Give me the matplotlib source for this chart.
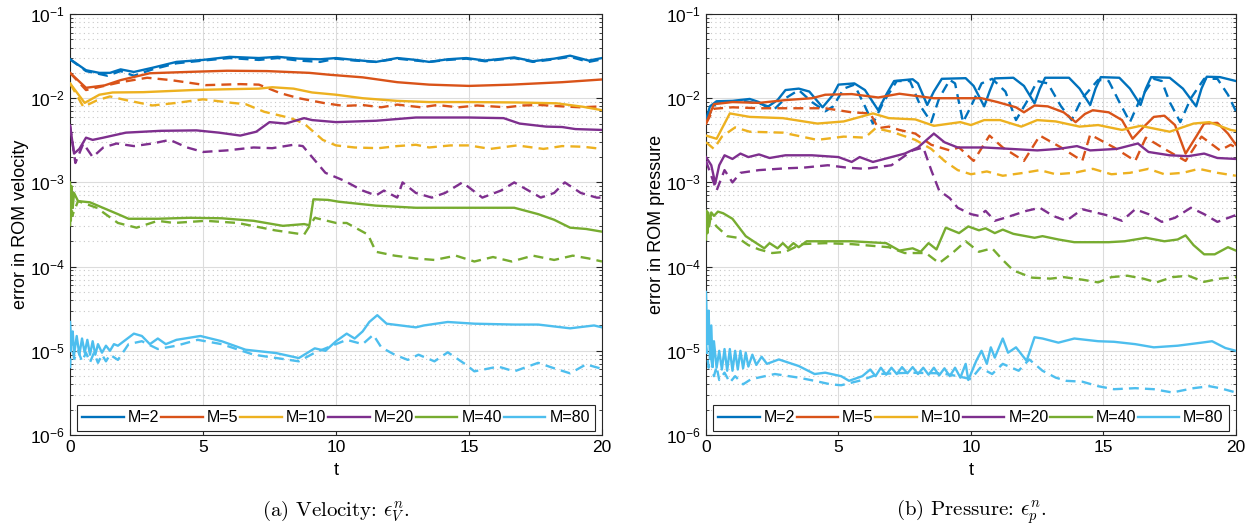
import numpy as np
import matplotlib
matplotlib.use("Agg")
import matplotlib.pyplot as plt
from matplotlib.ticker import LogLocator, NullFormatter, MultipleLocator

plt.rcParams['font.family'] = ['Liberation Sans', 'DejaVu Sans']
plt.rcParams['mathtext.fontset'] = 'cm'

labels = ['M=2', 'M=5', 'M=10', 'M=20', 'M=40', 'M=80']
colors = ['#0072BD', '#D95319', '#EDB120', '#7E2F8E', '#77AC30', '#4DBEEE']

# ---- velocity error, (t, value); solid = s, dashed = d
vel_m2_s = [(0, 2.9e-2), (0.3, 2.5e-2), (0.6, 2.15e-2), (1.1, 2.0e-2), (1.5, 2.0e-2), (1.9, 2.2e-2), (2.4, 2.05e-2),
            (3.1, 2.3e-2), (4.0, 2.7e-2), (5.0, 2.85e-2), (6.0, 3.1e-2), (7.1, 3.0e-2), (7.8, 3.1e-2), (8.6, 2.95e-2),
            (9.4, 2.9e-2), (10.0, 3.0e-2), (10.7, 2.85e-2), (11.5, 2.7e-2), (12.3, 3.0e-2), (13.0, 2.85e-2),
            (13.5, 2.7e-2), (14.2, 2.9e-2), (14.9, 3.0e-2), (15.6, 2.8e-2), (16.7, 3.05e-2), (17.4, 2.75e-2),
            (18.2, 2.95e-2), (18.8, 3.2e-2), (19.5, 2.8e-2), (20, 3.0e-2)]
vel_m2_d = [(0, 2.9e-2), (0.6, 2.1e-2), (1.4, 1.85e-2), (1.9, 2.1e-2), (2.4, 1.85e-2), (3.1, 2.2e-2), (4.0, 2.6e-2),
            (5.0, 2.8e-2), (6.0, 3.0e-2), (7.1, 2.85e-2), (7.8, 3.0e-2), (8.6, 2.8e-2), (9.4, 2.7e-2), (10.0, 2.95e-2),
            (10.7, 2.8e-2), (11.5, 2.7e-2), (12.3, 2.95e-2), (13.0, 2.8e-2), (13.5, 2.7e-2), (14.2, 2.85e-2),
            (14.9, 2.95e-2), (15.6, 2.75e-2), (16.7, 3.0e-2), (17.4, 2.7e-2), (18.2, 2.9e-2), (18.8, 3.1e-2),
            (19.5, 2.7e-2), (20, 2.9e-2)]
vel_m5_s = [(0, 2.0e-2), (0.6, 1.33e-2), (1.3, 1.42e-2), (1.9, 1.64e-2), (3.0, 1.98e-2), (4.6, 2.06e-2),
            (5.9, 2.12e-2), (7.4, 2.1e-2), (9.0, 2.0e-2), (9.75, 1.9e-2), (11.0, 1.77e-2), (12.3, 1.55e-2),
            (13.5, 1.45e-2), (15, 1.4e-2), (16.6, 1.45e-2), (18.5, 1.55e-2), (20, 1.67e-2)]
vel_m5_d = [(0, 2.0e-2), (0.6, 1.25e-2), (1.9, 1.55e-2), (2.9, 1.75e-2), (3.8, 1.64e-2), (5.1, 1.43e-2),
            (6.4, 1.47e-2), (7.1, 1.45e-2), (7.9, 1.15e-2), (8.6, 1.0e-2), (9.6, 8.7e-3), (10.3, 8.1e-3),
            (11.0, 8.3e-3), (11.7, 7.8e-3), (12.3, 8.4e-3), (13.2, 7.8e-3), (13.8, 8.3e-3), (14.6, 7.8e-3),
            (15.3, 8.2e-3), (16.4, 7.8e-3), (17.0, 8.2e-3), (17.7, 8.3e-3), (18.5, 8.0e-3), (19.2, 7.8e-3),
            (20, 8.0e-3)]
vel_m10_s = [(0, 1.5e-2), (0.55, 8.8e-3), (1.1, 1.1e-2), (1.6, 1.17e-2), (2.75, 1.18e-2), (4.6, 1.25e-2),
             (6.0, 1.28e-2), (7.1, 1.3e-2), (7.6, 1.35e-2), (8.4, 1.3e-2), (9.1, 1.17e-2), (10.0, 1.1e-2),
             (11.0, 1.0e-2), (12.3, 9.3e-3), (13.5, 9.0e-3), (15, 9.0e-3), (16.8, 8.9e-3), (18.3, 8.7e-3),
             (19.3, 7.9e-3), (20, 7.2e-3)]
vel_m10_d = [(0, 1.5e-2), (0.5, 7.9e-3), (1.0, 9.4e-3), (1.5, 1.05e-2), (2.1, 9.5e-3), (3.1, 8.2e-3),
             (4.0, 8.8e-3), (5.0, 9.7e-3), (6.1, 8.8e-3), (6.6, 8.5e-3), (7.3, 6.9e-3), (8.3, 5.8e-3),
             (8.8, 5.0e-3), (9.5, 3.2e-3), (10.0, 2.75e-3), (10.7, 2.6e-3), (11.6, 2.55e-3), (12.3, 2.7e-3),
             (13.0, 2.8e-3), (13.5, 2.6e-3), (14.3, 2.75e-3), (15.0, 2.75e-3), (15.8, 2.5e-3), (16.8, 2.75e-3),
             (17.8, 2.5e-3), (18.5, 2.7e-3), (19.3, 2.65e-3), (20, 2.5e-3)]
vel_m20_s = [(0, 4.75e-3), (0.15, 2.2e-3), (0.35, 2.5e-3), (0.6, 3.4e-3), (0.85, 3.2e-3), (1.25, 3.4e-3),
             (1.6, 3.6e-3), (2.1, 3.9e-3), (3.4, 4.1e-3), (4.75, 4.15e-3), (5.6, 3.9e-3), (6.4, 3.6e-3),
             (7.0, 4.0e-3), (7.5, 5.2e-3), (8.1, 5.0e-3), (8.8, 5.8e-3), (9.1, 5.5e-3), (10, 5.2e-3),
             (11.5, 5.4e-3), (13.0, 5.9e-3), (15, 5.9e-3), (16.3, 5.8e-3), (16.9, 5.0e-3), (17.9, 4.6e-3),
             (18.5, 4.55e-3), (19.0, 4.3e-3), (20, 4.2e-3)]
vel_m20_d = [(0, 4.75e-3), (0.2, 1.7e-3), (0.5, 2.9e-3), (0.85, 2.0e-3), (1.25, 2.6e-3), (1.75, 2.9e-3),
             (2.4, 2.7e-3), (3.1, 2.9e-3), (3.75, 3.2e-3), (4.4, 2.6e-3), (5.0, 2.3e-3), (5.9, 2.4e-3),
             (6.9, 2.6e-3), (7.6, 2.55e-3), (8.4, 2.8e-3), (8.75, 2.7e-3), (9.1, 2.0e-3), (9.6, 1.3e-3),
             (10.3, 1.05e-3), (11.0, 8e-4), (11.5, 7e-4), (11.8, 8e-4), (12.3, 6.6e-4), (12.5, 1.0e-3),
             (13.0, 7.5e-4), (13.6, 6.6e-4), (14.1, 7.5e-4), (14.75, 1.0e-3), (15.5, 6.6e-4), (16.2, 8e-4),
             (16.7, 1.0e-3), (17.7, 6.6e-4), (18.2, 7.5e-4), (18.6, 1.0e-3), (19.2, 7.5e-4), (19.8, 6.6e-4),
             (20, 6.6e-4)]
vel_m40_s = [(0, 1.0e-3), (0.03, 3.5e-4), (0.06, 9e-4), (0.1, 5e-4), (0.15, 7.5e-4), (0.3, 6e-4), (0.75, 5.8e-4),
             (1.8, 4.2e-4), (2.2, 3.7e-4), (3.3, 3.7e-4), (4.5, 3.8e-4), (5.7, 3.75e-4), (6.9, 3.5e-4),
             (8.0, 3.05e-4), (8.8, 3.2e-4), (9.0, 3.1e-4), (9.15, 6.3e-4), (9.7, 6.2e-4), (10.1, 5.9e-4),
             (11.5, 5.3e-4), (13, 5.0e-4), (16.7, 5.0e-4), (17.6, 4.2e-4), (18.2, 3.6e-4), (18.8, 2.9e-4),
             (19.4, 2.8e-4), (20, 2.6e-4)]
vel_m40_d = [(0, 3e-4), (0.03, 9e-4), (0.08, 4e-4), (0.3, 6e-4), (1.0, 5e-4), (1.8, 3.3e-4), (2.5, 2.9e-4),
             (3.3, 3.5e-4), (3.9, 3.3e-4), (5.1, 3.5e-4), (6.3, 3.3e-4), (7.7, 2.7e-4), (8.8, 2.4e-4),
             (9.2, 3.8e-4), (10.0, 3.3e-4), (10.4, 3.3e-4), (11.2, 2.4e-4), (11.5, 1.5e-4), (12.2, 1.35e-4),
             (13, 1.25e-4), (13.7, 1.2e-4), (14.5, 1.35e-4), (15.2, 1.15e-4), (15.9, 1.3e-4), (16.6, 1.15e-4),
             (17.4, 1.35e-4), (18.2, 1.2e-4), (18.9, 1.35e-4), (19.5, 1.25e-4), (20, 1.15e-4)]
vel_m80_s = [(0, 2.2e-5), (0.05, 1.2e-5), (0.1, 1.7e-5), (0.15, 9e-6), (0.25, 1.5e-5), (0.35, 9e-6),
             (0.45, 1.4e-5), (0.55, 9.5e-6), (0.65, 1.35e-5), (0.75, 9e-6), (0.85, 1.3e-5), (0.95, 9e-6),
             (1.05, 1.2e-5), (1.2, 9.5e-6), (1.35, 1.15e-5), (1.5, 1.0e-5), (1.65, 1.2e-5), (1.8, 1.15e-5),
             (2.4, 1.6e-5), (2.7, 1.5e-5), (3.0, 1.2e-5), (3.3, 1.4e-5), (3.6, 1.2e-5), (4.0, 1.35e-5),
             (4.9, 1.5e-5), (5.7, 1.3e-5), (6.6, 1.03e-5), (7.75, 9.4e-6), (8.6, 8.2e-6), (9.2, 1.07e-5),
             (9.6, 1.0e-5), (10.0, 1.3e-5), (10.4, 1.6e-5), (10.7, 1.4e-5), (11.0, 1.7e-5), (11.25, 2.2e-5),
             (11.55, 2.65e-5), (11.9, 2.1e-5), (13, 1.9e-5), (13.3, 2.0e-5), (14.2, 2.2e-5), (15.2, 2.1e-5),
             (16.7, 2.05e-5), (17.6, 2.05e-5), (18.8, 1.85e-5), (19.7, 2.0e-5), (20, 1.9e-5)]
vel_m80_d = [(0, 6.2e-6), (0.05, 1.5e-5), (0.15, 8e-6), (0.3, 1.0e-5), (0.45, 7.5e-6), (0.6, 9.5e-6),
             (0.75, 7.3e-6), (0.9, 9.5e-6), (1.05, 7.2e-6), (1.2, 9e-6), (1.35, 7.5e-6), (1.5, 9e-6),
             (1.8, 7.8e-6), (2.2, 1.2e-5), (2.7, 1.3e-5), (3.3, 1.05e-5), (4.0, 1.15e-5), (4.8, 1.35e-5),
             (5.7, 1.2e-5), (6.9, 9e-6), (8.6, 7.5e-6), (9.2, 9.5e-6), (10.4, 1.35e-5), (11.0, 1.2e-5),
             (11.4, 1.55e-5), (11.7, 1.1e-5), (12.2, 9e-6), (12.7, 7.8e-6), (13.1, 9e-6), (13.7, 7.5e-6),
             (14.2, 9.6e-6), (14.9, 6.8e-6), (15.2, 5.7e-6), (16.1, 6.5e-6), (16.7, 5.7e-6), (17.6, 7.2e-6),
             (18.2, 6.2e-6), (18.8, 5.4e-6), (19.4, 6.9e-6), (20, 6.1e-6)]

# ---- pressure error
pre_m2_s = [(0, 5.5e-3), (0.15, 8e-3), (0.4, 9.2e-3), (1.0, 9.3e-3), (1.65, 9.8e-3), (2.0, 9.0e-3), (2.3, 7.8e-3),
            (2.7, 9.5e-3), (3.0, 1.25e-2), (3.5, 1.3e-2), (3.9, 1.2e-2), (4.4, 7.8e-3), (4.8, 1.1e-2),
            (5.0, 1.45e-2), (5.6, 1.5e-2), (6.0, 1.25e-2), (6.5, 7.2e-3), (6.8, 1.1e-2), (7.1, 1.6e-2),
            (7.8, 1.68e-2), (8.0, 1.5e-2), (8.35, 8.3e-3), (8.6, 1.2e-2), (8.9, 1.7e-2), (9.8, 1.73e-2),
            (10.1, 1.4e-2), (10.5, 8e-3), (10.7, 1.2e-2), (10.9, 1.72e-2), (11.6, 1.75e-2), (12.0, 1.4e-2),
            (12.4, 8.7e-3), (12.6, 1.3e-2), (12.8, 1.75e-2), (13.7, 1.75e-2), (14.1, 1.3e-2), (14.5, 8.3e-3),
            (14.7, 1.3e-2), (14.9, 1.78e-2), (15.6, 1.75e-2), (16.0, 1.3e-2), (16.4, 8.3e-3), (16.6, 1.3e-2),
            (16.8, 1.78e-2), (17.5, 1.75e-2), (18.0, 1.3e-2), (18.5, 8e-3), (18.7, 1.3e-2), (18.9, 1.8e-2),
            (19.4, 1.78e-2), (20, 1.6e-2)]
pre_m2_d = [(0, 5.5e-3), (0.4, 9e-3), (1.5, 9.2e-3), (2.1, 8.5e-3), (2.6, 7.5e-3), (3.0, 1.0e-2), (3.5, 1.25e-2),
            (4.0, 9e-3), (4.5, 7e-3), (4.8, 8e-3), (5.2, 1.3e-2), (5.6, 1.45e-2), (6.0, 8e-3), (6.3, 5e-3),
            (6.7, 9e-3), (7.2, 1.6e-2), (7.7, 1.6e-2), (8.1, 8e-3), (8.5, 5.2e-3), (8.8, 1.0e-2), (9.2, 1.65e-2),
            (9.4, 1.5e-2), (9.7, 5.2e-3), (10.0, 8e-3), (10.4, 1.5e-2), (10.8, 1.7e-2), (11.3, 1.2e-2),
            (11.7, 5.5e-3), (12.1, 9e-3), (12.5, 1.6e-2), (12.9, 1.5e-2), (13.4, 8e-3), (13.8, 5.5e-3),
            (14.2, 1.0e-2), (14.8, 1.65e-2), (15.2, 1.6e-2), (15.6, 9e-3), (16.0, 5.2e-3), (16.4, 1.0e-2),
            (16.9, 1.7e-2), (17.2, 1.6e-2), (17.5, 9e-3), (17.9, 5.2e-3), (18.3, 1.0e-2), (18.8, 1.7e-2),
            (19.3, 1.7e-2), (19.7, 1.1e-2), (20, 7e-3)]
pre_m5_s = [(0, 5e-3), (0.3, 8.5e-3), (1.0, 9e-3), (2.0, 8.8e-3), (3.0, 9.5e-3), (4.0, 1.0e-2), (4.5, 1.1e-2),
            (5.5, 1.12e-2), (6.5, 1.02e-2), (7.3, 1.13e-2), (8.6, 1.0e-2), (9.8, 1.0e-2), (10.4, 1.0e-2),
            (11.0, 9e-3), (11.7, 7.8e-3), (12.0, 6.8e-3), (12.4, 8.2e-3), (12.9, 8e-3), (13.5, 6.8e-3),
            (13.95, 5.2e-3), (14.3, 6.5e-3), (14.6, 7.2e-3), (15.2, 6.8e-3), (15.7, 5.5e-3), (16.1, 3.3e-3),
            (16.5, 4.5e-3), (16.9, 6e-3), (17.3, 6.2e-3), (17.7, 4.8e-3), (18.1, 2.2e-3), (18.5, 3.5e-3),
            (18.8, 5e-3), (19.3, 5.1e-3), (19.7, 3.8e-3), (20, 2.8e-3)]
pre_m5_d = [(0, 5e-3), (0.3, 7.5e-3), (1.0, 7.8e-3), (2.0, 7.6e-3), (3.0, 7.6e-3), (4.5, 7.6e-3), (5.5, 6.8e-3),
            (6.2, 6.6e-3), (6.5, 4.4e-3), (6.9, 4.6e-3), (7.3, 4.2e-3), (7.9, 3.8e-3), (8.5, 2.8e-3), (9.2, 2.4e-3),
            (9.55, 2.6e-3), (10.1, 1.8e-3), (10.7, 3.6e-3), (11.2, 2.6e-3), (12.0, 1.8e-3), (12.6, 3.6e-3),
            (13.4, 2.6e-3), (14.2, 1.8e-3), (14.5, 3.7e-3), (15.4, 2.6e-3), (16.2, 1.8e-3), (16.6, 3.4e-3),
            (17.4, 2.4e-3), (18.1, 1.8e-3), (18.7, 3.5e-3), (19.4, 2.4e-3), (19.8, 2.8e-3), (20, 2.6e-3)]
pre_m10_s = [(0, 3.6e-3), (0.4, 3.3e-3), (0.9, 6.6e-3), (1.65, 6e-3), (2.9, 5.8e-3), (4.2, 5e-3), (5.2, 5.3e-3),
             (6.3, 6.6e-3), (6.9, 5.8e-3), (7.9, 5.6e-3), (8.6, 4.7e-3), (9.6, 5.2e-3), (10.0, 4.8e-3),
             (10.5, 5.5e-3), (11.1, 5.5e-3), (11.9, 4.6e-3), (12.5, 5.5e-3), (13.2, 5.3e-3), (14.1, 4.6e-3),
             (14.8, 4.8e-3), (15.7, 4.2e-3), (16.4, 4.7e-3), (17.5, 4.0e-3), (18.4, 5.0e-3), (19.0, 5.2e-3),
             (19.8, 4.2e-3), (20, 4.1e-3)]
pre_m10_d = [(0, 3e-3), (0.3, 2.5e-3), (0.6, 3.5e-3), (1.1, 4.5e-3), (1.65, 4e-3), (2.9, 3.9e-3), (4.2, 3.2e-3),
             (5.2, 3.5e-3), (6.0, 3.4e-3), (6.4, 4.4e-3), (7.0, 4e-3), (7.9, 3.2e-3), (8.5, 2.5e-3), (9.0, 1.8e-3),
             (9.5, 1.4e-3), (10.0, 1.25e-3), (10.6, 1.35e-3), (11.2, 1.2e-3), (12.0, 1.3e-3), (12.6, 1.4e-3),
             (13.2, 1.25e-3), (13.9, 1.3e-3), (14.6, 1.45e-3), (15.3, 1.25e-3), (16.0, 1.3e-3), (16.7, 1.45e-3),
             (17.3, 1.25e-3), (18.0, 1.3e-3), (18.6, 1.45e-3), (19.3, 1.3e-3), (20, 1.2e-3)]
pre_m20_s = [(0, 2e-3), (0.2, 1.6e-3), (0.35, 9.7e-4), (0.5, 1.6e-3), (0.7, 2.1e-3), (1.0, 1.9e-3), (1.3, 2.2e-3),
             (1.6, 2.0e-3), (2.0, 2.15e-3), (2.4, 1.95e-3), (3.0, 2.1e-3), (4.0, 2.1e-3), (5.0, 2.0e-3),
             (5.5, 1.75e-3), (5.8, 2.0e-3), (6.3, 1.75e-3), (7.0, 2.0e-3), (7.5, 2.2e-3), (8.0, 2.6e-3),
             (8.6, 3.8e-3), (9.0, 3.0e-3), (9.5, 2.6e-3), (10.5, 2.6e-3), (11.5, 2.5e-3), (12.5, 2.4e-3),
             (13.3, 2.5e-3), (14.0, 2.7e-3), (14.5, 2.4e-3), (15.5, 2.5e-3), (16.3, 2.9e-3), (16.7, 2.3e-3),
             (17.5, 2.1e-3), (18.2, 2.05e-3), (18.8, 2.2e-3), (19.3, 1.95e-3), (20, 1.9e-3)]
pre_m20_d = [(0, 1.8e-3), (0.2, 1.2e-3), (0.4, 8e-4), (0.7, 1.4e-3), (1.0, 1.0e-3), (1.3, 1.3e-3), (2.0, 1.4e-3),
             (3.0, 1.47e-3), (3.7, 1.5e-3), (4.6, 1.6e-3), (5.3, 1.5e-3), (6.0, 1.45e-3), (7.0, 1.6e-3),
             (7.8, 2.4e-3), (8.2, 2.6e-3), (8.5, 1.4e-3), (8.8, 8e-4), (9.2, 6.5e-4), (9.5, 5e-4), (10.0, 4.2e-4),
             (10.3, 4e-4), (10.55, 4.6e-4), (10.9, 3.5e-4), (11.4, 3.9e-4), (12.1, 4.6e-4), (12.6, 5e-4),
             (13.1, 4e-4), (13.6, 3.5e-4), (14.2, 4.8e-4), (14.7, 4.4e-4), (15.1, 4.1e-4), (15.7, 3.5e-4),
             (16.2, 4.8e-4), (16.7, 4.2e-4), (17.2, 3.4e-4), (17.7, 3.8e-4), (18.3, 5e-4), (18.8, 4.2e-4),
             (19.3, 3.4e-4), (20, 4.1e-4)]
pre_m40_s = [(0, 2.1e-4), (0.02, 4.6e-4), (0.05, 2.5e-4), (0.08, 4.4e-4), (0.12, 3e-4), (0.2, 4.4e-4),
             (0.3, 4e-4), (0.45, 4.5e-4), (0.65, 4.3e-4), (1.0, 3.7e-4), (1.5, 2.3e-4), (1.9, 1.9e-4),
             (2.2, 1.65e-4), (2.4, 1.9e-4), (2.7, 1.65e-4), (2.9, 1.9e-4), (3.1, 1.65e-4), (3.3, 1.9e-4),
             (3.5, 1.7e-4), (3.8, 2.0e-4), (4.5, 2.0e-4), (5.5, 2.0e-4), (6.8, 1.9e-4), (7.3, 1.55e-4),
             (7.8, 1.65e-4), (8.1, 1.5e-4), (8.4, 1.9e-4), (8.7, 1.6e-4), (9.05, 2.9e-4), (9.55, 2.5e-4),
             (9.9, 3.0e-4), (10.3, 2.7e-4), (10.55, 2.85e-4), (10.9, 2.5e-4), (11.2, 2.75e-4), (11.6, 2.45e-4),
             (12.4, 2.2e-4), (12.7, 2.3e-4), (13.3, 2.1e-4), (13.9, 1.95e-4), (15.2, 1.95e-4), (15.8, 2.0e-4),
             (16.6, 2.2e-4), (17.3, 2.0e-4), (17.8, 2.1e-4), (18.1, 2.35e-4), (18.4, 1.8e-4), (18.8, 1.4e-4),
             (19.2, 1.4e-4), (19.7, 1.7e-4), (20, 1.55e-4)]
pre_m40_d = [(0, 4.3e-4), (0.05, 2.5e-4), (0.1, 4e-4), (0.4, 3e-4), (0.8, 2.3e-4), (1.2, 2.2e-4), (1.6, 1.8e-4),
             (2.0, 1.6e-4), (2.5, 1.45e-4), (3.0, 1.5e-4), (3.6, 1.85e-4), (4.5, 1.9e-4), (5.5, 1.85e-4),
             (6.9, 1.7e-4), (7.5, 1.45e-4), (8.3, 1.45e-4), (8.8, 1.1e-4), (9.3, 1.45e-4), (9.8, 2.0e-4),
             (10.3, 1.5e-4), (10.8, 1.65e-4), (11.2, 1.2e-4), (11.6, 9e-5), (12.3, 7.4e-5), (13.0, 7.2e-5),
             (13.5, 7.5e-5), (14.2, 7e-5), (14.8, 6.5e-5), (15.3, 7.5e-5), (15.9, 7.8e-5), (16.5, 7.2e-5),
             (17.0, 6.5e-5), (17.6, 7.5e-5), (18.2, 7.8e-5), (18.8, 6.6e-5), (19.4, 7.2e-5), (20, 7.5e-5)]
pre_m80_s = [(0, 5e-5), (0.05, 1.2e-5), (0.1, 3e-5), (0.15, 8e-6), (0.2, 2e-5), (0.25, 6.5e-6), (0.3, 1.3e-5),
             (0.4, 6.3e-6), (0.5, 1e-5), (0.6, 6e-6), (0.7, 1.05e-5), (0.8, 5.8e-6), (0.9, 1.05e-5), (1.0, 5.8e-6),
             (1.1, 1.0e-5), (1.2, 6e-6), (1.3, 1.0e-5), (1.4, 6.2e-6), (1.5, 9.5e-6), (1.6, 6.5e-6), (1.75, 9e-6),
             (1.9, 6.8e-6), (2.1, 8.5e-6), (2.3, 7e-6), (2.75, 7.9e-6), (3.5, 6.6e-6), (4.1, 5.3e-6),
             (4.5, 5.5e-6), (5.1, 5e-6), (5.4, 4.4e-6), (5.9, 5e-6), (6.2, 6e-6), (6.4, 5e-6), (6.6, 6.3e-6),
             (6.8, 5.2e-6), (7.0, 6.3e-6), (7.2, 5.3e-6), (7.4, 6.4e-6), (7.6, 5.4e-6), (7.8, 6.4e-6),
             (8.0, 5.3e-6), (8.2, 6.3e-6), (8.4, 5.2e-6), (8.6, 6.3e-6), (8.8, 5.1e-6), (9.0, 6.2e-6),
             (9.2, 5e-6), (9.4, 6.3e-6), (9.6, 4.8e-6), (9.8, 7e-6), (9.9, 4.5e-6), (10.2, 7.6e-6),
             (10.4, 1.0e-5), (10.6, 7e-6), (10.75, 1.1e-5), (10.9, 8.3e-6), (11.2, 1.4e-5), (11.4, 9.5e-6),
             (11.7, 1.1e-5), (12.1, 7.6e-6), (12.4, 1.45e-5), (12.7, 1.4e-5), (13.3, 1.25e-5), (13.9, 1.4e-5),
             (14.8, 1.3e-5), (15.4, 1.28e-5), (16.2, 1.2e-5), (16.9, 1.1e-5), (17.8, 1.15e-5), (18.7, 1.25e-5),
             (19.1, 1.3e-5), (19.6, 1.08e-5), (20, 1e-5)]
pre_m80_d = [(0, 1.2e-5), (0.1, 6.3e-6), (0.2, 8e-6), (0.3, 5e-6), (0.4, 6.5e-6), (0.5, 4.5e-6), (0.7, 5.5e-6),
             (0.9, 4.2e-6), (1.1, 5e-6), (1.4, 4e-6), (1.7, 4.6e-6), (2.6, 5.3e-6), (3.5, 4.8e-6), (4.1, 4.4e-6),
             (4.7, 4e-6), (5.1, 3.9e-6), (5.9, 4.5e-6), (6.5, 5.3e-6), (7.7, 5.5e-6), (8.9, 5.4e-6), (9.5, 5e-6),
             (10.0, 4.6e-6), (10.35, 6.3e-6), (10.8, 5.3e-6), (11.2, 7e-6), (11.8, 5.8e-6), (12.2, 7.9e-6),
             (12.7, 5.8e-6), (13.2, 4.8e-6), (13.6, 4.4e-6), (14.2, 4.3e-6), (14.8, 3.8e-6), (15.4, 3.5e-6),
             (16.2, 3.6e-6), (16.9, 3.5e-6), (17.6, 3.2e-6), (18.4, 3.6e-6), (19.0, 3.8e-6), (19.4, 3.6e-6),
             (20, 3.2e-6)]

vel_solid = [vel_m2_s, vel_m5_s, vel_m10_s, vel_m20_s, vel_m40_s, vel_m80_s]
vel_dash = [vel_m2_d, vel_m5_d, vel_m10_d, vel_m20_d, vel_m40_d, vel_m80_d]
pre_solid = [pre_m2_s, pre_m5_s, pre_m10_s, pre_m20_s, pre_m40_s, pre_m80_s]
pre_dash = [pre_m2_d, pre_m5_d, pre_m10_d, pre_m20_d, pre_m40_d, pre_m80_d]

fig = plt.figure(figsize=(12.6, 5.25), dpi=100)
ax1 = fig.add_axes([0.0556, 0.1714, 0.4222, 0.8019])
ax2 = fig.add_axes([0.5603, 0.1714, 0.4206, 0.8019])


def draw(ax, solid, dashed, ylabel):
    for s, d, c, lab in zip(solid, dashed, colors, labels):
        ts, vs = zip(*s)
        td, vd = zip(*d)
        ax.plot(ts, vs, color=c, lw=1.7, label=lab, zorder=3)
        ax.plot(td, vd, color=c, lw=1.7, ls=(0, (4.2, 2.6)), zorder=3)
    ax.set_yscale('log')
    ax.set_xlim(0, 20)
    ax.set_ylim(1e-6, 1e-1)
    ax.xaxis.set_major_locator(MultipleLocator(5))
    ax.yaxis.set_major_locator(LogLocator(base=10, numticks=10))
    ax.yaxis.set_minor_locator(LogLocator(base=10, subs=np.arange(2, 10), numticks=20))
    ax.yaxis.set_minor_formatter(NullFormatter())
    ax.grid(True, which='major', color='#dcdcdc', lw=0.8, ls='-')
    ax.grid(True, which='minor', axis='y', color='#c8c8c8', lw=0.8, ls=(0, (1, 3)))
    ax.set_axisbelow(True)
    ax.tick_params(which='both', direction='in', top=True, right=True, labelsize=12.5, color='#262626')
    ax.tick_params(which='major', length=4)
    ax.tick_params(which='minor', length=2)
    for sp in ax.spines.values():
        sp.set_color('#262626')
        sp.set_linewidth(0.8)
    ax.set_xlabel('t', fontsize=13, labelpad=5)
    ax.set_ylabel(ylabel, fontsize=13, labelpad=1)
    leg = ax.legend(loc='lower center', ncol=6, fontsize=11.5, handlelength=2.6, columnspacing=0.8,
                    handletextpad=0.25, borderpad=0.35, borderaxespad=0.25, frameon=True, fancybox=False,
                    mode='expand', bbox_to_anchor=(0.005, 0.0, 0.99, 1))
    leg.get_frame().set_edgecolor('#262626')
    leg.get_frame().set_linewidth(0.8)
    leg.get_frame().set_alpha(1)


draw(ax1, vel_solid, vel_dash, 'error in ROM velocity')
draw(ax2, pre_solid, pre_dash, 'error in ROM pressure')

fig.text(0.0556 + 0.4222 / 2, 0.018, r'(a) Velocity: $\epsilon_V^n$.', ha='center', fontsize=15, family='cmr10')
fig.text(0.5603 + 0.4206 / 2, 0.018, r'(b) Pressure: $\epsilon_p^n$.', ha='center', fontsize=15, family='cmr10')

fig.savefig('out.png', dpi=100)
